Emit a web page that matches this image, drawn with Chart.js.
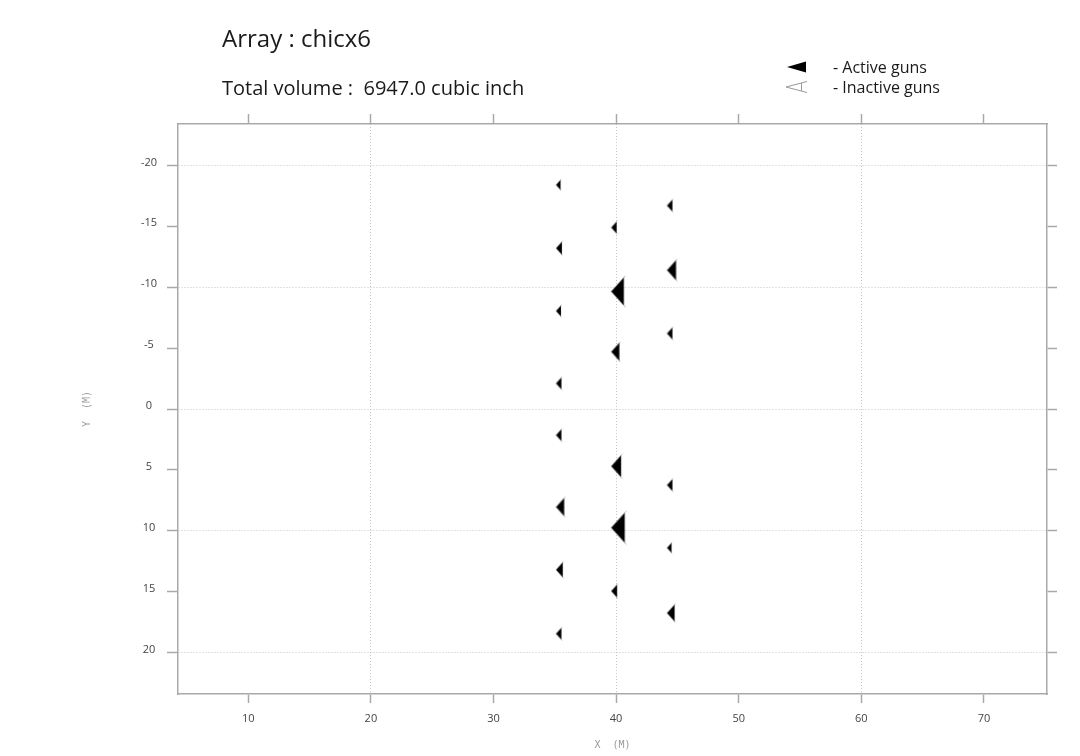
<!DOCTYPE html>
<html>
<head>
<meta charset="utf-8">
<script src="https://cdn.jsdelivr.net/npm/chart.js@4.4.1/dist/chart.umd.min.js"></script>
<style>
  html, body { margin: 0; padding: 0; background: #ffffff; }
  #wrap { width: 1080px; height: 756px; position: relative; }
</style>
</head>
<body>
<div id="wrap"><canvas id="c"></canvas></div>
<script>
// ---- data ----
const arrayName = "chicx6";
const gunX = [35.1, 35.1, 35.1, 35.1, 35.1, 35.1, 35.1, 35.1,
              39.6, 39.6, 39.6, 39.6, 39.6, 39.6,
              44.15, 44.15, 44.15, 44.15, 44.15, 44.15];
const gunY = [-18.4, -13.2, -8.05, -2.1, 2.15, 8.05, 13.2, 18.45,
              -14.9, -9.65, -4.7, 4.7, 9.75, 14.95,
              -16.7, -11.4, -6.2, 6.25, 11.4, 16.75];
const gunVolume = [130, 220, 155, 185, 185, 420, 290, 185,
                   185, 1010, 420, 620, 1160, 220,
                   185, 515, 185, 185, 130, 362];
const gunActive = [true, true, true, true, true, true, true, true,
                   true, true, true, true, true, true,
                   true, true, true, true, true, true];
const xTickValues = [10, 20, 30, 40, 50, 60, 70];
const yTickValues = [-20, -15, -10, -5, 0, 5, 10, 15, 20];
const xRange = [4.27, 75.14];
const yRange = [-23.4, 23.4];
const legendLabels = ["- Active guns", "- Inactive guns"];

const totalVolume = gunVolume.reduce((a, b) => a + b, 0);

// ---- marker images (tip of the triangle sits on the gun position) ----
function makeGunMarker(volume, active) {
  const h = 0.8815 * Math.sqrt(volume);
  const w = 0.45 * h;
  const pad = 3;
  const W = Math.ceil(2 * (w + pad));
  const H = Math.ceil(h + 2 * pad);
  const cv = document.createElement('canvas');
  cv.width = W; cv.height = H;
  const g = cv.getContext('2d');
  const cx = W / 2, cy = H / 2;
  g.beginPath();
  g.moveTo(cx, cy);
  g.lineTo(cx + w, cy - h / 2);
  g.lineTo(cx + w, cy + h / 2);
  g.closePath();
  if (active) {
    g.fillStyle = '#000';
    g.fill();
    g.strokeStyle = 'rgba(120,120,120,0.7)';
    g.lineWidth = 0.8;
    g.beginPath();
    g.moveTo(cx, cy);
    g.lineTo(cx + w * 1.12, cy - h / 2 * 1.12);
    g.moveTo(cx, cy);
    g.lineTo(cx + w * 1.12, cy + h / 2 * 1.12);
    g.stroke();
  } else {
    g.strokeStyle = '#999';
    g.lineWidth = 1;
    g.stroke();
  }
  return cv;
}
const gunMarkers = gunVolume.map((v, i) => makeGunMarker(v, gunActive[i]));

// ---- header / legend plugin ----
const headerPlugin = {
  id: 'header',
  afterDraw(chart) {
    const ctx = chart.ctx;
    ctx.save();
    ctx.fillStyle = '#1a1a1a';
    ctx.textAlign = 'left';
    ctx.textBaseline = 'alphabetic';
    ctx.font = '24px "Open Sans"';
    ctx.fillText('Array : ' + arrayName, 222, 47);
    ctx.font = '20px "Open Sans"';
    ctx.fillText('Total volume :  ' + totalVolume.toFixed(1) + ' cubic inch', 222, 95);

    // legend symbols
    ctx.fillStyle = '#000';
    ctx.beginPath();
    ctx.moveTo(787, 67);
    ctx.lineTo(806, 61.5);
    ctx.lineTo(806, 72.5);
    ctx.closePath();
    ctx.fill();

    ctx.strokeStyle = '#999';
    ctx.lineWidth = 1;
    ctx.beginPath();
    ctx.moveTo(807, 81.5);
    ctx.lineTo(786, 87);
    ctx.lineTo(807, 92.5);
    ctx.moveTo(801.5, 83);
    ctx.lineTo(801.5, 91);
    ctx.stroke();

    ctx.fillStyle = '#1a1a1a';
    ctx.font = '16px "Open Sans"';
    ctx.fillText(legendLabels[0], 833, 73);
    ctx.fillText(legendLabels[1], 833, 93);
    ctx.restore();
  }
};

const frameColor = '#a9a9a9';
const gridColor = '#c4c4c4';
const tickFont = { family: '"Open Sans"', size: 11 };
const tickColor = '#444';

new Chart(document.getElementById('c'), {
  type: 'scatter',
  data: {
    datasets: [{
      label: 'Active guns',
      data: gunX.map((x, i) => ({ x: x, y: gunY[i] })),
      pointStyle: gunMarkers,
      pointRadius: 6,
      pointHoverRadius: 6,
      backgroundColor: '#000',
      borderColor: '#000'
    }]
  },
  options: {
    responsive: true,
    maintainAspectRatio: false,
    animation: false,
    events: [],
    layout: { padding: 0 },
    plugins: {
      legend: { display: false },
      title: { display: false },
      tooltip: { enabled: false }
    },
    scales: {
      x: {
        type: 'linear',
        position: 'bottom',
        min: xRange[0], max: xRange[1],
        afterBuildTicks: s => { s.ticks = xTickValues.map(v => ({ value: v })); },
        afterFit: s => { s.height = 62; },
        ticks: { font: tickFont, color: tickColor, padding: 9, maxRotation: 0 },
        grid: {
          color: c => (c.tick && c.tick.value % 20 === 0) ? gridColor : 'rgba(0,0,0,0)',
          tickColor: frameColor, tickLength: 9, tickWidth: 1.5, tickBorderDash: []
        },
        border: { color: frameColor, width: 1.5, dash: [1, 2] },
        title: {
          display: true, text: 'X  (M)', color: '#9a9a9a',
          font: { family: '"DejaVu Sans Mono"', size: 10 },
          padding: { top: 0, bottom: 5 }
        }
      },
      x2: {
        type: 'linear',
        position: 'top',
        min: xRange[0], max: xRange[1],
        afterBuildTicks: s => { s.ticks = xTickValues.map(v => ({ value: v })); },
        afterFit: s => { s.height = 124; },
        ticks: { display: false },
        grid: { drawOnChartArea: false, tickColor: frameColor, tickLength: 10, tickWidth: 1.5 },
        border: { color: frameColor, width: 1.5 }
      },
      y: {
        type: 'linear',
        position: 'left',
        reverse: true,
        min: yRange[0], max: yRange[1],
        afterBuildTicks: s => { s.ticks = yTickValues.map(v => ({ value: v })); },
        afterFit: s => { s.width = 178; },
        ticks: { font: tickFont, color: tickColor, padding: 10, crossAlign: 'center', labelOffset: -3 },
        grid: {
          color: c => (c.tick && c.tick.value % 10 === 0) ? gridColor : 'rgba(0,0,0,0)',
          tickColor: frameColor, tickLength: 11, tickWidth: 1.5, tickBorderDash: []
        },
        border: { color: frameColor, width: 1.5, dash: [1, 2] },
        title: {
          display: true, text: 'Y  (M)', color: '#9a9a9a',
          font: { family: '"DejaVu Sans Mono"', size: 10 },
          padding: { top: 81, bottom: 0 }
        }
      },
      y2: {
        type: 'linear',
        position: 'right',
        reverse: true,
        min: yRange[0], max: yRange[1],
        afterBuildTicks: s => { s.ticks = yTickValues.map(v => ({ value: v })); },
        afterFit: s => { s.width = 33; },
        ticks: { display: false },
        grid: { drawOnChartArea: false, tickColor: frameColor, tickLength: 10, tickWidth: 1.5 },
        border: { color: frameColor, width: 1.5 }
      }
    }
  },
  plugins: [headerPlugin]
});
</script>
</body>
</html>
